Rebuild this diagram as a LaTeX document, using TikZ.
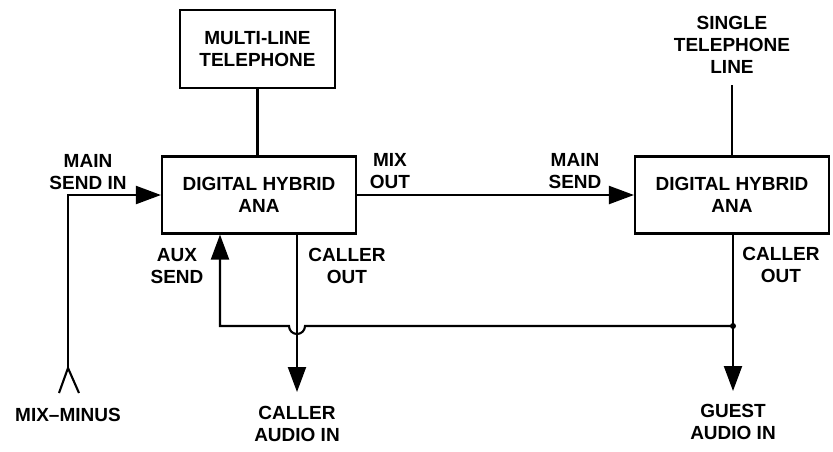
\documentclass[tikz,border=0pt]{standalone}
\usepackage{fontspec}
\setmainfont{Liberation Sans}
\usepackage{tikz}
\usetikzlibrary{arrows.meta, positioning}

\begin{document}
\begin{tikzpicture}[x=1pt, y=-1pt, line width=2.1pt,
    font=\fontsize{19}{22}\selectfont\bfseries,
    box/.style={draw, minimum width=194pt, minimum height=77pt, align=center, inner sep=0pt},
    lbl/.style={align=center, inner sep=0pt},
    sig/.style={-{Triangle[length=25pt, width=18pt]}}]
        \useasboundingbox (0,0) rectangle (833,451);
        % Define the boxes
        \node[box, minimum width=155pt, minimum height=78pt] (tel) at (257.5,49) {MULTI-LINE\\TELEPHONE};
        \node[box] (hybA) at (259,195) {DIGITAL HYBRID\\ANA};
        \node[box] (hybB) at (732,195) {DIGITAL HYBRID\\ANA};
        % Labels
        \node[lbl] (line) at (732,45) {SINGLE\\TELEPHONE\\LINE};
        \node[lbl] (mainin) at (88,172) {MAIN\\SEND IN};
        \node[lbl] (mixout) at (390,171) {MIX\\OUT};
        \node[lbl] (mainsend) at (575,171) {MAIN\\SEND};
        \node[lbl] (auxsend) at (177,266) {AUX\\SEND};
        \node[lbl] (callA) at (347,266) {CALLER\\OUT};
        \node[lbl] (callB) at (781,265) {CALLER\\OUT};
        \node[lbl] (mixminus) at (68,415) {MIX--MINUS};
        \node[lbl] (callin) at (297,424) {CALLER\\AUDIO IN};
        \node[lbl] (guestin) at (733,422) {GUEST\\AUDIO IN};
        % Connection points
        \coordinate (mm) at (68,368);
        \coordinate (callend) at (297,392);
        \coordinate (guestend) at (733,391);
        \coordinate (dot) at (733,326);
        \coordinate (auxcorner) at (220,326);
        \coordinate (linetop) at (732,85);
        % Wires
        \draw (tel) -- (tel |- hybA.north);
        \draw (linetop) -- (hybB.north);
        \draw[sig] (mm) |- (hybA.west);
        \draw (59,393) -- (mm) -- (79,393);
        \draw[sig] (hybA.east) -- (hybB.west);
        \draw[sig] (hybA.south -| callend) -- (callend);
        \draw[sig] (hybB.south -| guestend) -- (guestend);
        \draw[sig] (dot) -- (305,326) arc[start angle=0, end angle=180, radius=8] -- (auxcorner) -- (auxcorner |- hybA.south);
        \fill (dot) circle (3pt);
    \end{tikzpicture}
\end{document}
